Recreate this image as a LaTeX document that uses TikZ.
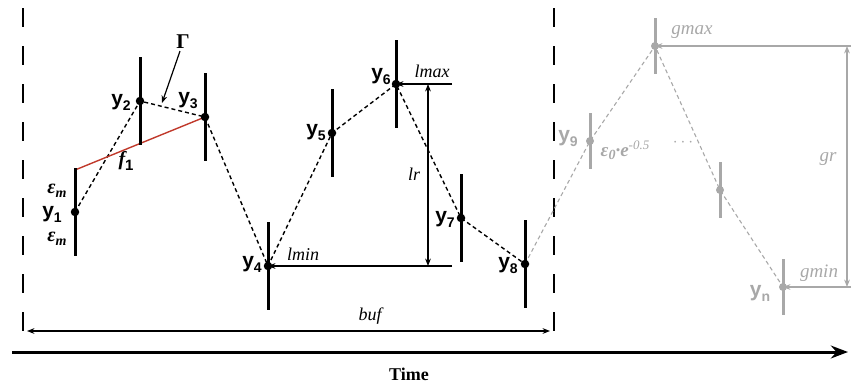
\documentclass[tikz,border=0pt]{standalone}
\usepackage{fontspec}
\setmainfont{Liberation Serif}
\setsansfont{Liberation Sans}
\usepackage{tikz}
\usetikzlibrary{calc,arrows.meta,positioning}
\definecolor{grayx}{HTML}{A8A8A8}
\definecolor{redx}{HTML}{C0392B}
\newcommand{\fs}[1]{\fontsize{#1}{#1}\selectfont}
\newcommand{\yl}[1]{y\raisebox{-0.45ex}{\fs{14}#1}}
\tikzset{
  bar/.style={line width=3pt},
  pt/.style={circle,fill,inner sep=0pt,minimum size=8.5pt},
  trace/.style={line width=1.4pt,dash pattern=on 4pt off 3pt},
  ar/.style={-{Stealth[length=2.6mm,width=2mm]},line width=1.2pt},
  dar/.style={{Stealth[length=2.6mm,width=2mm]}-{Stealth[length=2.6mm,width=2mm]},line width=1.2pt},
  win/.style={line width=2.5pt,dash pattern=on 19pt off 19pt},
  ylab/.style={inner sep=0pt,font=\sffamily\bfseries\fs{21}},
  ilab/.style={inner sep=0pt,font=\itshape\fs{18}},
  glab/.style={inner sep=0pt,text=grayx}
}

\begin{document}
\begin{tikzpicture}[x=1pt,y=-1pt]
\useasboundingbox (0,0) rectangle (853,384);
% measured points
\coordinate (p1) at (75,212);
\coordinate (p2) at (140,101);
\coordinate (p3) at (205,117);
\coordinate (p4) at (268,266);
\coordinate (p5) at (332,133);
\coordinate (p6) at (396,84);
\coordinate (p7) at (461,218);
\coordinate (p8) at (525,264);
\coordinate (q9) at (590,141);
\coordinate (qmax) at (655,46);
\coordinate (qk) at (720,190);
\coordinate (qn) at (783,287);
% buffer window
\coordinate (wl) at (23,8);
\coordinate (wlb) at (23,337);
\coordinate (wr) at (554,8);
\coordinate (wrb) at (554,337);
\draw[win] (wl) -- (wlb);
\draw[win] (wr) -- (wrb);
% traces
\draw[trace,grayx,line width=1.1pt] (p8) -- (q9) -- (qmax) -- (qk) -- (qn);
\draw[trace] (p1) -- (p2) -- (p3) -- (p4) -- (p5) -- (p6) -- (p7) -- (p8);
\draw[redx,line width=1.4pt] ($(p1)+(0,-42)$) -- (p3);
\foreach \i in {1,...,8} {
  \draw[bar] ($(p\i)+(0,-44)$) -- ($(p\i)+(0,44)$);
  \node[pt] at (p\i) {};
}
\foreach \q in {q9,qmax,qk,qn} {
  \draw[bar,grayx] ($(\q)+(0,-28)$) -- ($(\q)+(0,28)$);
  \node[pt,grayx,minimum size=8pt] at (\q) {};
}
% labels
\node[ylab] (l1) at (52,214) {\yl{1}};
\node[ylab] (l2) at (121,102) {\yl{2}};
\node[ylab] (l3) at (188,101) {\yl{3}};
\node[ylab] (l4) at (252,264) {\yl{4}};
\node[ylab] (l5) at (316,133) {\yl{5}};
\node[ylab] (l6) at (381,77) {\yl{6}};
\node[ylab] (l7) at (445,219) {\yl{7}};
\node[ylab] (l8) at (508,266) {\yl{8}};
\node[inner sep=0pt,font=\bfseries\itshape\fs{20}] (em1) at (57,191) {ε\raisebox{-0.4ex}{\fs{14}m}};
\node[inner sep=0pt,font=\bfseries\itshape\fs{20}] (em2) at (57,239) {ε\raisebox{-0.4ex}{\fs{14}m}};
\node[inner sep=0pt,font=\bfseries\itshape\fs{20}] (f1) at (126,161) {f\raisebox{-0.45ex}{\sffamily\upshape\fs{15}1}};
\node[inner sep=0pt,font=\bfseries\fs{21}] (gam) at (183,42) {Γ};
\coordinate (gtip) at (162,103);
\draw[ar] (gam.south) ++(-3,2) coordinate (gs) -- (gtip);
% local range
\coordinate (lmaxe) at (452,84);
\coordinate (lmine) at (452,266);
\draw[ar] (lmaxe) -- (p6);
\draw[ar] (lmine) -- (p4);
\draw[dar] (428,84) coordinate (lrt) -- (428,266) coordinate (lrb);
\node[ilab] (lmax) at (432,71) {lmax};
\node[ilab] (lmin) at (303,254) {lmin};
\node[ilab] (lr) at (414,174) {lr};
% buffer and time
\coordinate (bufl) at (27,331);
\coordinate (bufr) at (550,331);
\draw[dar] (bufl) -- (bufr);
\node[ilab] (buf) at (370,316) {buf};
\coordinate (t0) at (12,352);
\coordinate (t1) at (848,352);
\draw[line width=3pt,-{Stealth[length=6mm,width=4.5mm]}] (t0) -- (t1);
\node[inner sep=0pt,font=\bfseries\fs{18}] (time) at (409,374) {Time};
% global range
\coordinate (gmaxe) at (851,46);
\coordinate (gmine) at (851,287);
\draw[ar,grayx] (gmaxe) -- (qmax);
\draw[ar,grayx] (gmine) -- (qn);
\draw[dar,grayx] (847,46) coordinate (grt) -- (847,287) coordinate (grb);
\node[glab,font=\itshape\fs{19}] (gmax) at (692,32) {gmax};
\node[glab,font=\itshape\fs{19}] (gmin) at (819,273) {gmin};
\node[glab,font=\itshape\fs{19}] (gr) at (828,159) {gr};
\node[glab,font=\sffamily\bfseries\fs{21}] (l9) at (568,139) {\yl{9}};
\node[glab,font=\sffamily\bfseries\fs{21}] (ln) at (760,293) {\yl{n}};
\node[glab,font=\bfseries\itshape\fs{19}] (eps) at (625,150) {ε\raisebox{-0.4ex}{\fs{14}0}·e\raisebox{0.8ex}{\mdseries\fs{13}-0.5}};
\node[glab,font=\bfseries\fs{18}] (dots) at (683,143) {$\cdots$};
\end{tikzpicture}
\end{document}
